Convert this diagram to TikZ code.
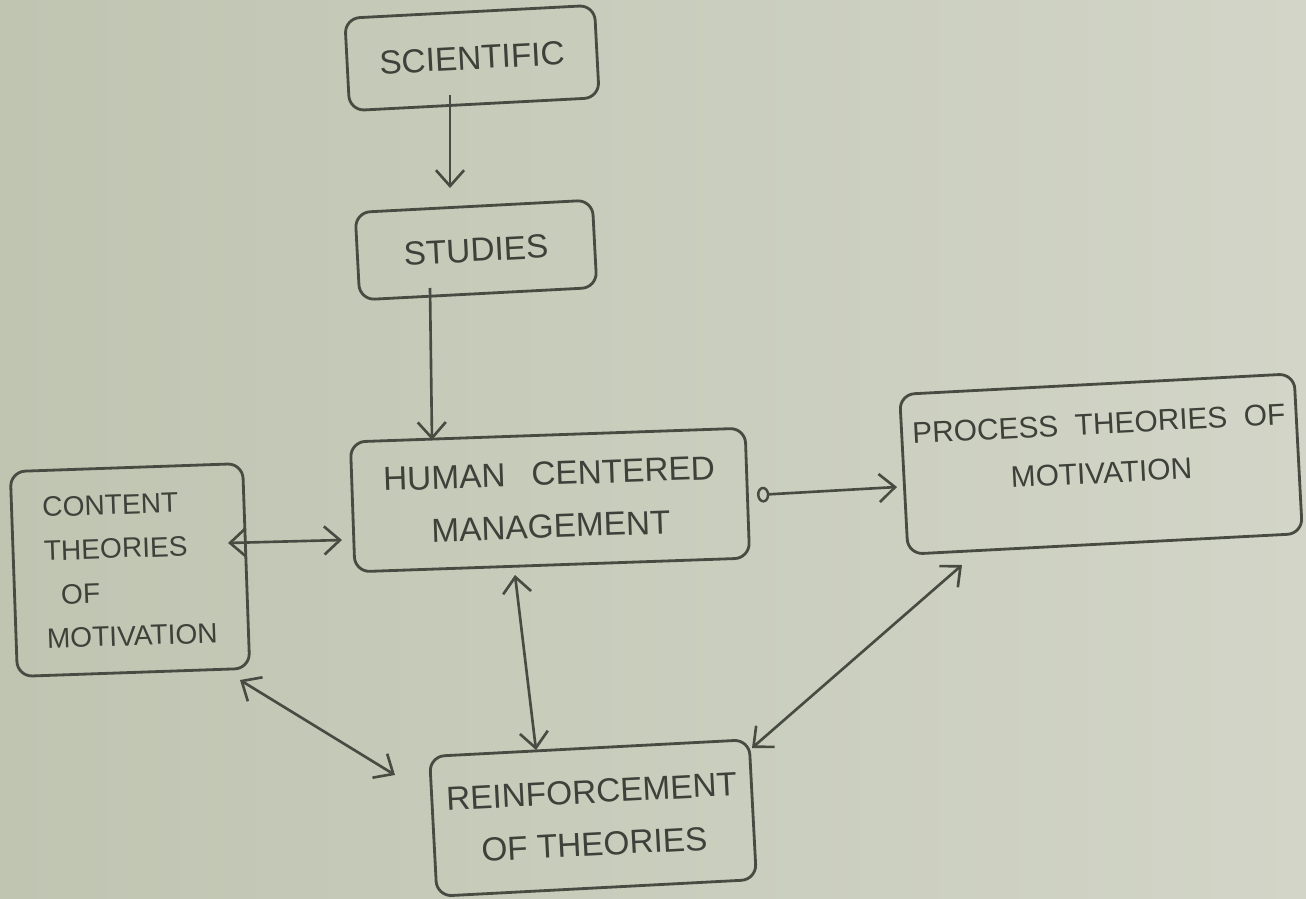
\documentclass[tikz,border=0pt]{standalone}
\usepackage{fontspec}
\setmainfont{Liberation Sans}
\usetikzlibrary{arrows.meta,calc}
\definecolor{boardL}{RGB}{192,197,178}
\definecolor{boardR}{RGB}{210,213,199}
\definecolor{ink}{RGB}{72,75,66}
\definecolor{txt}{RGB}{62,65,58}
\tikzset{
  board/.style={left color=boardL,right color=boardR,draw=none},
  boxnode/.style={draw=ink,line width=1.6pt,rounded corners=0.3cm,inner sep=0pt,
    text=txt,align=center,font=\fontsize{19}{30}\selectfont},
  conn/.style={draw=ink,line width=1.5pt,arrows={-Straight Barb[length=9pt,width=16pt,line width=1.5pt]}},
  bconn/.style={draw=ink,line width=1.5pt,arrows={Straight Barb[length=9pt,width=16pt,line width=1.5pt]-Straight Barb[length=9pt,width=16pt,line width=1.5pt]}},
  cconn/.style={draw=ink,line width=1.5pt,arrows={Circle[open,length=7pt,width=9pt,line width=1.4pt]-Straight Barb[length=9pt,width=16pt,line width=1.5pt]}}
}
\begin{document}
\begin{tikzpicture}[x=0.02cm,y=-0.02cm]
\shade[board] (0,0) rectangle (1306,899);
\useasboundingbox (0,0) rectangle (1306,899);

\node[boxnode,minimum width=5.0cm,minimum height=1.85cm,rotate=3] (sci) at (472,58) {SCIENTIFIC};
\node[boxnode,minimum width=4.75cm,minimum height=1.75cm,rotate=3] (stu) at (476,250) {STUDIES};
\node[boxnode,minimum width=7.9cm,minimum height=2.6cm,rotate=2] (hcm) at (550,500) {HUMAN \enspace CENTERED\\MANAGEMENT};
\node[boxnode,minimum width=7.9cm,minimum height=3.2cm,rotate=3,font=\fontsize{17}{28}\selectfont] (pro) at (1101,464) {PROCESS \ THEORIES \ OF\\MOTIVATION\\[-10pt]};
\node[boxnode,minimum width=4.65cm,minimum height=4.1cm,rotate=2,align=left,font=\fontsize{16}{25}\selectfont] (con) at (130,570) {CONTENT\\THEORIES\\\ \ OF\\MOTIVATION};
\node[boxnode,minimum width=6.4cm,minimum height=2.8cm,rotate=3] (rei) at (593,818) {REINFORCEMENT\\OF THEORIES};

\draw[conn] ($(sci)+(-22,37)$) -- ($(stu)+(-26,-62)$);
\draw[conn] ($(stu)+(-46,38)$) -- ($(hcm)+(-118,-60)$);
\draw[bconn] ($(con)+(98,-27)$) -- ($(hcm)+(-208,40)$);
\draw[cconn] ($(hcm)+(207,-5)$) -- ($(pro)+(-204,23)$);
\draw[bconn] ($(hcm)+(-35,75)$) -- ($(rei)+(-57,-68)$);
\draw[bconn] ($(con)+(110,110)$) -- ($(rei)+(-198,-43)$);
\draw[bconn] ($(rei)+(159,-70)$) -- ($(pro)+(-139,101)$);
\end{tikzpicture}
\end{document}
